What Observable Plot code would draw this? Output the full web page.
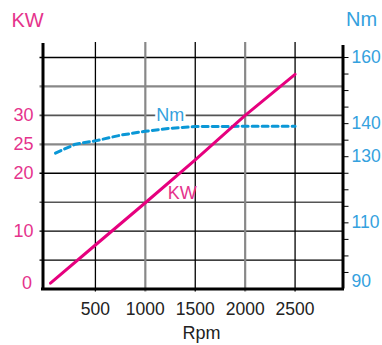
<!DOCTYPE html>
<html><head><meta charset="utf-8">
<script src="https://cdn.jsdelivr.net/npm/d3@7"></script>
<script src="https://cdn.jsdelivr.net/npm/@observablehq/plot@0.6"></script>
<style>html,body{margin:0;padding:0;background:#fff} svg{display:block}</style>
</head><body><div id="chart"></div>
<script>
// ---- data ----
const rpmTicks = [500, 1000, 1500, 2000, 2500];
const kwGrid = [5, 10, 15, 20, 25, 30, 35, 40];
const kwLabels = [10, 20, 25, 30];
const kwZeroLabel = [0];
const nmTickMarks = [95, 100, 105, 110, 115, 120, 125, 130, 135, 140, 145, 150, 155, 160];
const nmLabels = [110, 130, 140, 160];
const nmZeroLabel = [90];
const kwRpm = [50, 500, 1000, 1500, 2000, 2500];
const kwValues = [1, 7.6, 14.9, 22.3, 30.0, 37.1];
const nmRpm = [100, 300, 500, 750, 1000, 1250, 1500, 2000, 2500];
const nmValues = [131.1, 133.8, 134.8, 136.5, 137.7, 138.6, 139.1, 139.2, 139.2];

// ---- helpers ----
const NM0 = 90, NM_PER_KW = 1.75;
const toKw = n => (n - NM0) / NM_PER_KW;
const toNm = k => Math.round(NM0 + k * NM_PER_KW);
const kw = kwRpm.map((r, i) => ({rpm: r, kw: kwValues[i]}));
const nm = nmRpm.map((r, i) => ({rpm: r, y: toKw(nmValues[i])}));

const xDomain = [-25, 2980];
const pink = "#e6007e", pinkText = "#e5338c", blue = "#0a97d6", blueText = "#34a1de";
const font = "'Liberation Sans', Arial, sans-serif";
const grayA = [35, 25], grayB = [30, 15];
const blackGrid = kwGrid.filter(d => !grayA.includes(d) && !grayB.includes(d));
const grayX = [1000, 2000];

const chart = Plot.plot({
  width: 382, height: 345,
  marginLeft: 42.5, marginRight: 39.5, marginTop: 57, marginBottom: 56.5,
  style: {fontFamily: font, background: "#fff", overflow: "visible"},
  x: {domain: xDomain},
  y: {domain: [0, 40]},
  marks: [
    Plot.ruleY(blackGrid, {stroke: "#000", strokeWidth: 1.3, insetLeft: -3}),
    Plot.ruleY(kwGrid.filter(d => grayB.includes(d)), {stroke: "#555", strokeWidth: 1.6, insetLeft: -3}),
    Plot.ruleY(kwGrid.filter(d => grayA.includes(d)), {stroke: "#888", strokeWidth: 2.2, insetLeft: -3}),
    Plot.ruleX(rpmTicks.filter(d => !grayX.includes(d)), {stroke: "#000", strokeWidth: 1.3, insetTop: -15, insetBottom: -3}),
    Plot.ruleX(rpmTicks.filter(d => grayX.includes(d)), {stroke: "#888", strokeWidth: 2.2, insetTop: -15, insetBottom: -3}),
    // axis frame lines
    Plot.ruleX([xDomain[0]], {stroke: "#000", strokeWidth: 3, insetTop: -14}),
    Plot.ruleX([xDomain[1]], {stroke: "#000", strokeWidth: 3, insetTop: -12}),
    Plot.ruleY([0], {stroke: "#000", strokeWidth: 3, insetLeft: -1.5, insetRight: -1.5}),
    // right axis ticks
    Plot.axisY(nmTickMarks.map(toKw), {anchor: "right", tickSize: 5, tickFormat: () => "", stroke: "#000", label: null}),
    // labels
    Plot.axisY(kwLabels, {anchor: "left", tickSize: 0, tickPadding: 9.5, fontSize: 18, fill: pinkText, label: null, tickFormat: d => String(d)}),
    Plot.axisY(kwZeroLabel, {anchor: "left", tickSize: 0, tickPadding: 11, dy: -6, fontSize: 18, fill: pinkText, label: null, tickFormat: d => String(d)}),
    Plot.axisY(nmLabels.map(toKw), {anchor: "right", tickSize: 0, tickPadding: 8.5, fontSize: 17.5, fill: blueText, label: null, tickFormat: toNm}),
    Plot.axisY(nmZeroLabel.map(toKw), {anchor: "right", tickSize: 0, tickPadding: 8.5, dy: -8, fontSize: 17.5, fill: blueText, label: null, tickFormat: toNm}),
    Plot.axisX(rpmTicks, {anchor: "bottom", tickSize: 0, tickPadding: 14, fontSize: 17.5, fill: "#222", label: null, tickFormat: d => String(d)}),
    // series
    Plot.line(nm, {x: "rpm", y: "y", stroke: blue, strokeWidth: 3, strokeDasharray: "6,4"}),
    Plot.line(kw, {x: "rpm", y: "kw", stroke: pink, strokeWidth: 3}),
    // in-chart labels
    Plot.text(nm.filter(d => d.rpm === 1250), {x: "rpm", y: "y", text: () => "Nm", dy: -13, fontSize: 18, fill: blueText, stroke: "#fff", strokeWidth: 5, paintOrder: "stroke"}),
    Plot.text(kw.filter(d => d.rpm === 1500), {x: "rpm", y: "kw", text: () => "KW", dx: -13, dy: 33, fontSize: 18, fill: pinkText}),
    // titles
    Plot.text(["KW"], {frameAnchor: "top-left", textAnchor: "middle", lineAnchor: "middle", text: d => d, dx: -15.5, dy: -37, fontSize: 20, fill: pinkText}),
    Plot.text(["Nm"], {frameAnchor: "top-right", textAnchor: "middle", lineAnchor: "middle", text: d => d, dx: 18.5, dy: -37.5, fontSize: 20, fill: blueText}),
    Plot.text(["Rpm"], {frameAnchor: "bottom", textAnchor: "middle", lineAnchor: "middle", text: d => d, dx: 8.5, dy: 44, fontSize: 18, fill: "#222"})
  ]
});
document.getElementById("chart").append(chart);
</script>
</body></html>
